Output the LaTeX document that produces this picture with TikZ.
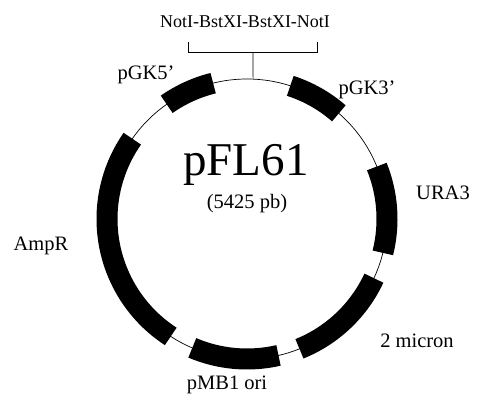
\documentclass[tikz,border=0pt]{standalone}
\usepackage{fontspec}
\setmainfont{Liberation Serif}

\begin{document}
\begin{tikzpicture}[
    x=1pt, y=1pt, every node/.style={inner sep=0pt, align=center},
    backbone/.style={line width=0.7pt},
    gene/.style={line width=21pt},
    sitetext/.style={font=\fontsize{20.5}{24}\selectfont}
]
\useasboundingbox (0,0) rectangle (481,399);
\coordinate (centre) at (247,180);
\draw[backbone] (centre) circle[radius=140];
\foreach \from/\to in {104/125, 49/72, -14/22, -68/-25, -113/-77, 145/237}
    \draw[gene] ([shift={(\from:140)}]centre) arc[start angle=\from, end angle=\to, radius=140];

\coordinate (bracket_mid) at (253,347);
\coordinate (insert_site) at ([shift={(87.5:140)}]centre);
\draw[backbone] (bracket_mid) -- (insert_site);
\draw[backbone] ([shift={(-65,10)}]bracket_mid) -- ++(0,-10) -- ([shift={(64,0)}]bracket_mid) -- ++(0,10);

\node (insert_name) [font=\fontsize{18}{21}\selectfont] at (245,377) {NotI-BstXI-BstXI-NotI};
\node (plasmid_name) [font=\fontsize{47}{50}\selectfont] at (246,234.5) {pFL61};
\node (plasmid_size) [sitetext] at (247,195.5) {(5425 pb)};
\node (pgk5_name) [sitetext] at (146,324.5) {pGK5'};
\node (pgk3_name) [sitetext] at (367,309.5) {pGK3'};
\node (ura3_name) [sitetext] at (443,206.5) {URA3};
\node (ampr_name) [sitetext] at (41,153.5) {AmpR};
\node (micron_name) [sitetext] at (417,58.5) {2 micron};
\node (pmb1_name) [sitetext] at (227,14) {pMB1 ori};
\end{tikzpicture}
\end{document}
